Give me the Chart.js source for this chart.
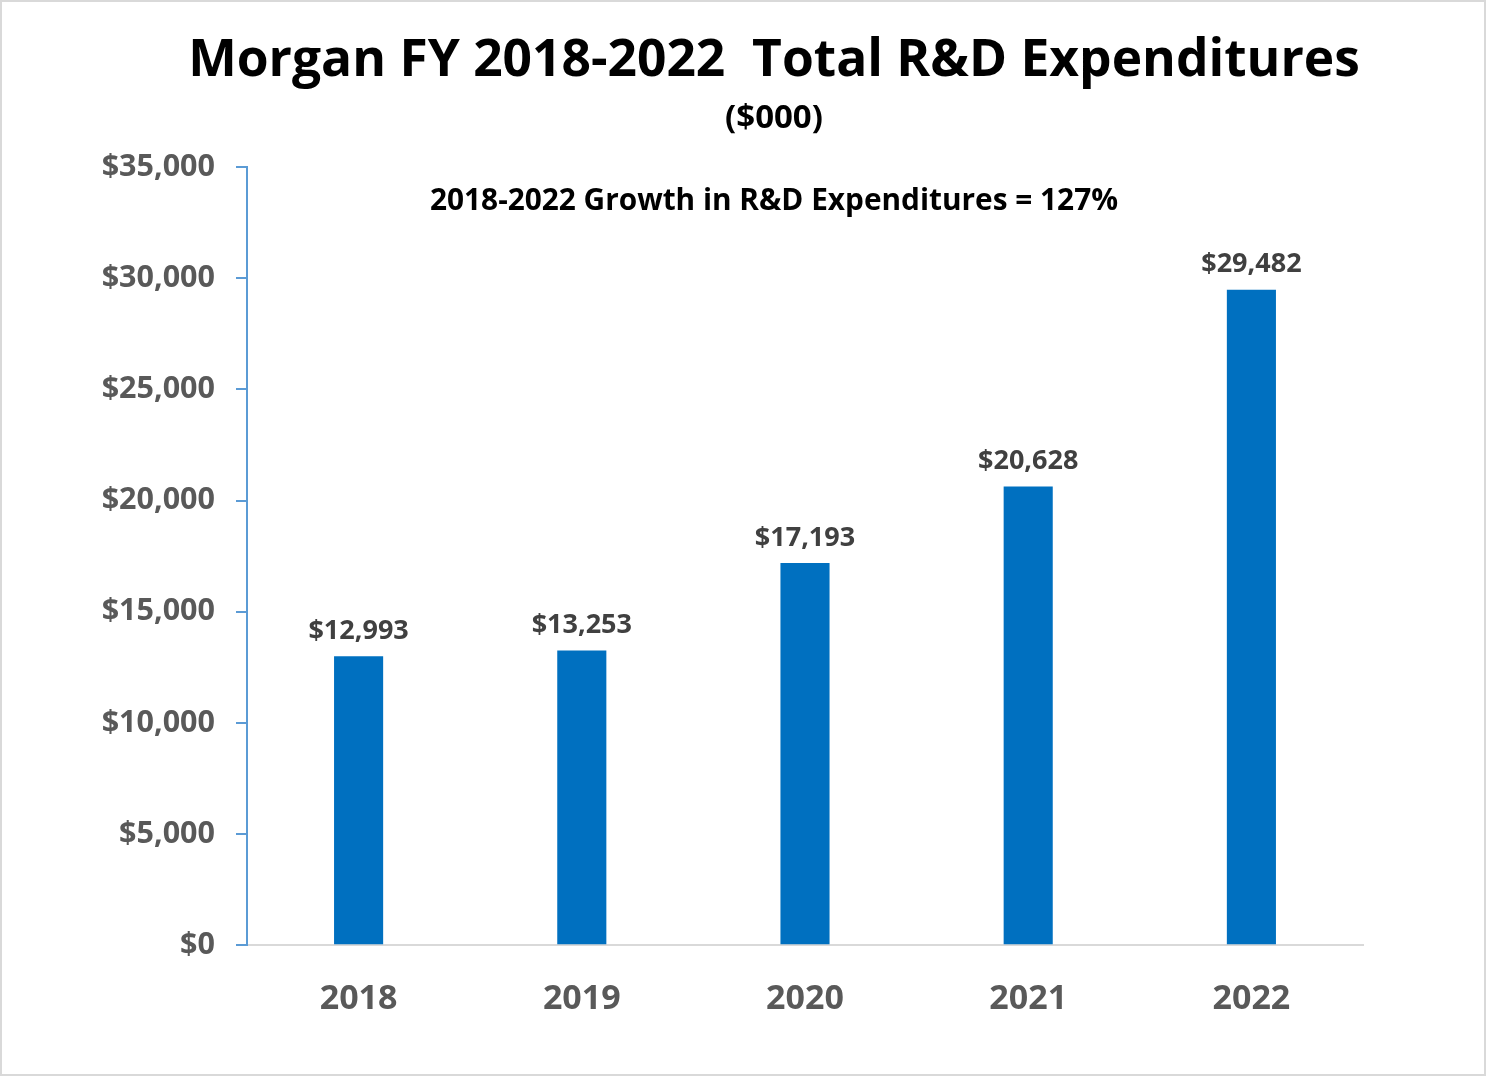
<!DOCTYPE html>
<html>
<head>
<meta charset="utf-8">
<script src="https://cdn.jsdelivr.net/npm/chart.js@4.4.0/dist/chart.umd.min.js"></script>
<style>
  html, body { margin: 0; padding: 0; background: #fff; }
  #wrap { width: 1486px; height: 1076px; }
</style>
</head>
<body>
<div id="wrap"><canvas id="c"></canvas></div>
<script>
// données
const years = ["2018", "2019", "2020", "2021", "2022"];
const rdSpend = [12993, 13253, 17193, 20628, 29482];
const yTicks = [0, 5000, 10000, 15000, 20000, 25000, 30000, 35000];
const titleText = "Morgan FY 2018-2022  Total R&D Expenditures";
const subtitleText = "($000)";
const growthNote = "2018-2022 Growth in R&D Expenditures = 127%";

const FONT = "'Open Sans', Lato, sans-serif";
const money = (v) => "$" + v.toLocaleString("en-US");

// titres, étiquettes au-dessus des barres, note de croissance, bordure
const extras = {
  id: "extras",
  beforeDraw(chart) {
    const { ctx, width, height } = chart;
    const cx = width / 2 + 31;
    ctx.save();
    ctx.fillStyle = "#fff";
    ctx.fillRect(0, 0, width, height);
    ctx.strokeStyle = "#d9d9d9";
    ctx.lineWidth = 2;
    ctx.strokeRect(1, 1, width - 2, height - 2);
    ctx.textAlign = "center";
    ctx.textBaseline = "middle";
    ctx.fillStyle = "#000";
    ctx.font = "bold 51.5px " + FONT;
    ctx.fillText(titleText, cx, 61);
    ctx.font = "bold 33px " + FONT;
    ctx.fillText(subtitleText, cx, 119);
    ctx.restore();
  },
  afterDatasetsDraw(chart) {
    const { ctx, chartArea, width } = chart;
    const meta = chart.getDatasetMeta(0);
    ctx.save();
    ctx.font = "bold 27px " + FONT;
    ctx.fillStyle = "#404040";
    ctx.textAlign = "center";
    ctx.textBaseline = "middle";
    meta.data.forEach((bar, i) => {
      ctx.fillText(money(rdSpend[i]), bar.x, bar.y - 25);
    });
    ctx.font = "bold 29.8px " + FONT;
    ctx.fillStyle = "#000";
    ctx.fillText(growthNote, width / 2 + 31, chartArea.top + 35);
    ctx.restore();
  }
};

new Chart(document.getElementById("c"), {
  type: "bar",
  data: {
    labels: years,
    datasets: [{
      data: rdSpend,
      backgroundColor: "#0070C0",
      barPercentage: 0.22,
      categoryPercentage: 1.0,
    }],
  },
  options: {
    responsive: true,
    maintainAspectRatio: false,
    animation: false,
    layout: { padding: { left: 0, right: 123, top: 167, bottom: 30 } },
    plugins: {
      legend: { display: false },
      tooltip: { enabled: false },
      title: { display: false },
    },
    scales: {
      x: {
        grid: { display: false },
        border: { display: true, color: "#d9d9d9", width: 2 },
        ticks: {
          color: "#595959",
          font: { family: FONT, size: 34, weight: "bold" },
          padding: 26,
        },
      },
      y: {
        min: 0,
        max: 35000,
        afterFit(scale) { scale.width = 247; },
        afterBuildTicks(scale) { scale.ticks = yTicks.map((v) => ({ value: v })); },
        grid: { display: true, drawOnChartArea: false, drawTicks: true, tickLength: 11, color: "#5B9BD5", lineWidth: 2 },
        border: { display: true, color: "#5B9BD5", width: 2 },
        ticks: {
          color: "#595959",
          font: { family: FONT, size: 30.5, weight: "bold" },
          padding: 21,
          callback: (v) => money(v),
        },
      },
    },
  },
  plugins: [extras],
});
</script>
</body>
</html>
